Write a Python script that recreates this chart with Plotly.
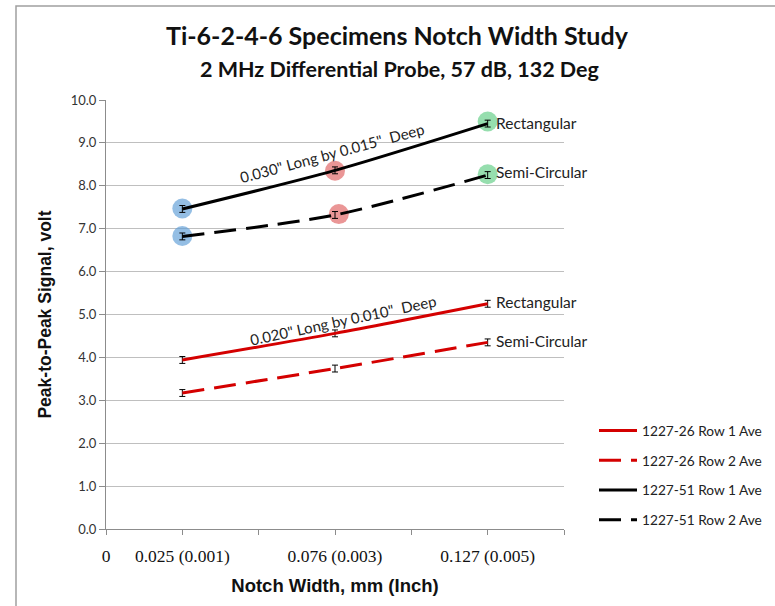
import plotly.graph_objects as go

# ---- data ----
notch_in = [0.001, 0.003, 0.005]                      # notch width, inch
tick_vals = [0, 0.001, 0.002, 0.003, 0.004, 0.005, 0.006]
tick_text = ["0", "0.025 (0.001)", "", "0.076 (0.003)", "", "0.127 (0.005)", ""]

s26_row1 = [3.94, 4.56, 5.25]
s26_row2 = [3.17, 3.74, 4.35]
s51_row1 = [7.46, 8.36, 9.45]
s51_row2 = [6.82, 7.32, 8.25]
err = [0.08, 0.08, 0.08]

hl_x = [0.001, 0.001, 0.003, 0.00305, 0.005, 0.005]
hl_y = [7.47, 6.83, 8.35, 7.34, 9.50, 8.27]
hl_colors = ["rgba(91,155,213,0.65)", "rgba(91,155,213,0.65)",
             "rgba(220,80,80,0.6)", "rgba(220,80,80,0.6)",
             "rgba(80,200,120,0.6)", "rgba(80,200,120,0.6)"]

RED = "#d40000"
BLACK = "#000000"
FONT = "Lato"

fig = go.Figure()

fig.add_trace(go.Scatter(x=hl_x, y=hl_y, mode="markers", showlegend=False,
                         marker=dict(size=20, color=hl_colors, line=dict(width=0)),
                         hoverinfo="skip"))

series = [
    ("1227-26 Row 1 Ave", s26_row1, RED, "solid"),
    ("1227-26 Row 2 Ave", s26_row2, RED, "22px,10px"),
    ("1227-51 Row 1 Ave", s51_row1, BLACK, "solid"),
    ("1227-51 Row 2 Ave", s51_row2, BLACK, "22px,10px"),
]
for i, (name, ys, col, dash) in enumerate(series):
    fig.add_trace(go.Scatter(
        x=notch_in, y=ys, name=name, mode="lines", legendgroup=f"g{i}",
        line=dict(color=col, width=3, dash=dash, shape="spline", smoothing=0.8),
        error_y=dict(type="data", array=err, color="black", thickness=1, width=3),
    ))

ann = []
# labels at the right end of each series
for ys, txt, ysh in [(s51_row1, "Rectangular", 1), (s51_row2, "Semi-Circular", 3),
                     (s26_row1, "Rectangular", 2), (s26_row2, "Semi-Circular", 1)]:
    ann.append(dict(x=notch_in[-1], y=ys[-1], text=txt, showarrow=False,
                    xanchor="left", yanchor="middle", xshift=6, yshift=ysh,
                    font=dict(family=FONT, size=15.5, color="#222")))
ann.append(dict(x=0.002957, y=8.77, text="0.030\" Long by 0.015\"  Deep", showarrow=False,
                textangle=-15, font=dict(family=FONT, size=15, color="#222")))
ann.append(dict(x=0.003109, y=4.88, text="0.020\" Long by 0.010\"  Deep", showarrow=False,
                textangle=-12, font=dict(family=FONT, size=15, color="#222")))
# titles
ann.append(dict(xref="paper", yref="paper", x=(397 - 106) / 458, y=(529 - 35) / 429,
                text="<b>Ti-6-2-4-6 Specimens Notch Width Study</b>", showarrow=False,
                xanchor="center", yanchor="middle",
                font=dict(family=FONT, size=25, color="#111")))
ann.append(dict(xref="paper", yref="paper", x=(399 - 106) / 458, y=(529 - 69) / 429,
                text="<b>2 MHz Differential Probe, 57 dB, 132 Deg</b>", showarrow=False,
                xanchor="center", yanchor="middle",
                font=dict(family=FONT, size=21.5, color="#111")))

fig.update_layout(
    width=775, height=606,
    margin=dict(l=106, r=211, t=100, b=77, autoexpand=False),
    paper_bgcolor="white", plot_bgcolor="white",
    showlegend=True,
    legend=dict(x=(594 - 106) / 458, y=(529 - 415) / 429, xanchor="left", yanchor="top",
                font=dict(family=FONT, size=13.7, color="#222"), itemwidth=38,
                tracegroupgap=9, bgcolor="rgba(0,0,0,0)"),
    annotations=ann,
    shapes=[dict(type="rect", xref="paper", yref="paper",
                 x0=(16 - 106) / 458, x1=(790 - 106) / 458,
                 y0=(529 - 620) / 429, y1=(529 - 6) / 429,
                 line=dict(color="#a0a0a0", width=1.5), layer="below")],
    xaxis=dict(range=[0, 0.006], tickmode="array", tickvals=tick_vals, ticktext=tick_text,
               showgrid=False, zeroline=False, showline=True, linecolor="#8c8c8c", linewidth=1,
               ticks="outside", ticklen=5, tickcolor="#8c8c8c",
               tickfont=dict(family="Liberation Serif", size=17.5, color="#111"),
               ticklabelstandoff=6,
               title=dict(text="<b>Notch Width, mm (Inch)</b>", standoff=14,
                          font=dict(family="Liberation Sans", size=18.5, color="#111"))),
    yaxis=dict(range=[0, 10], dtick=1, tickformat=".1f",
               showgrid=True, gridcolor="#bfbfbf", gridwidth=1, zeroline=False,
               showline=True, linecolor="#8c8c8c", linewidth=1,
               ticks="outside", ticklen=6, tickcolor="#8c8c8c",
               tickfont=dict(family=FONT, size=13, color="#333"),
               title=dict(text="<b>Peak-to-Peak Signal, volt</b>", standoff=14,
                          font=dict(family="Liberation Sans", size=17.5, color="#111"))),
)

fig.write_html("out.html")
